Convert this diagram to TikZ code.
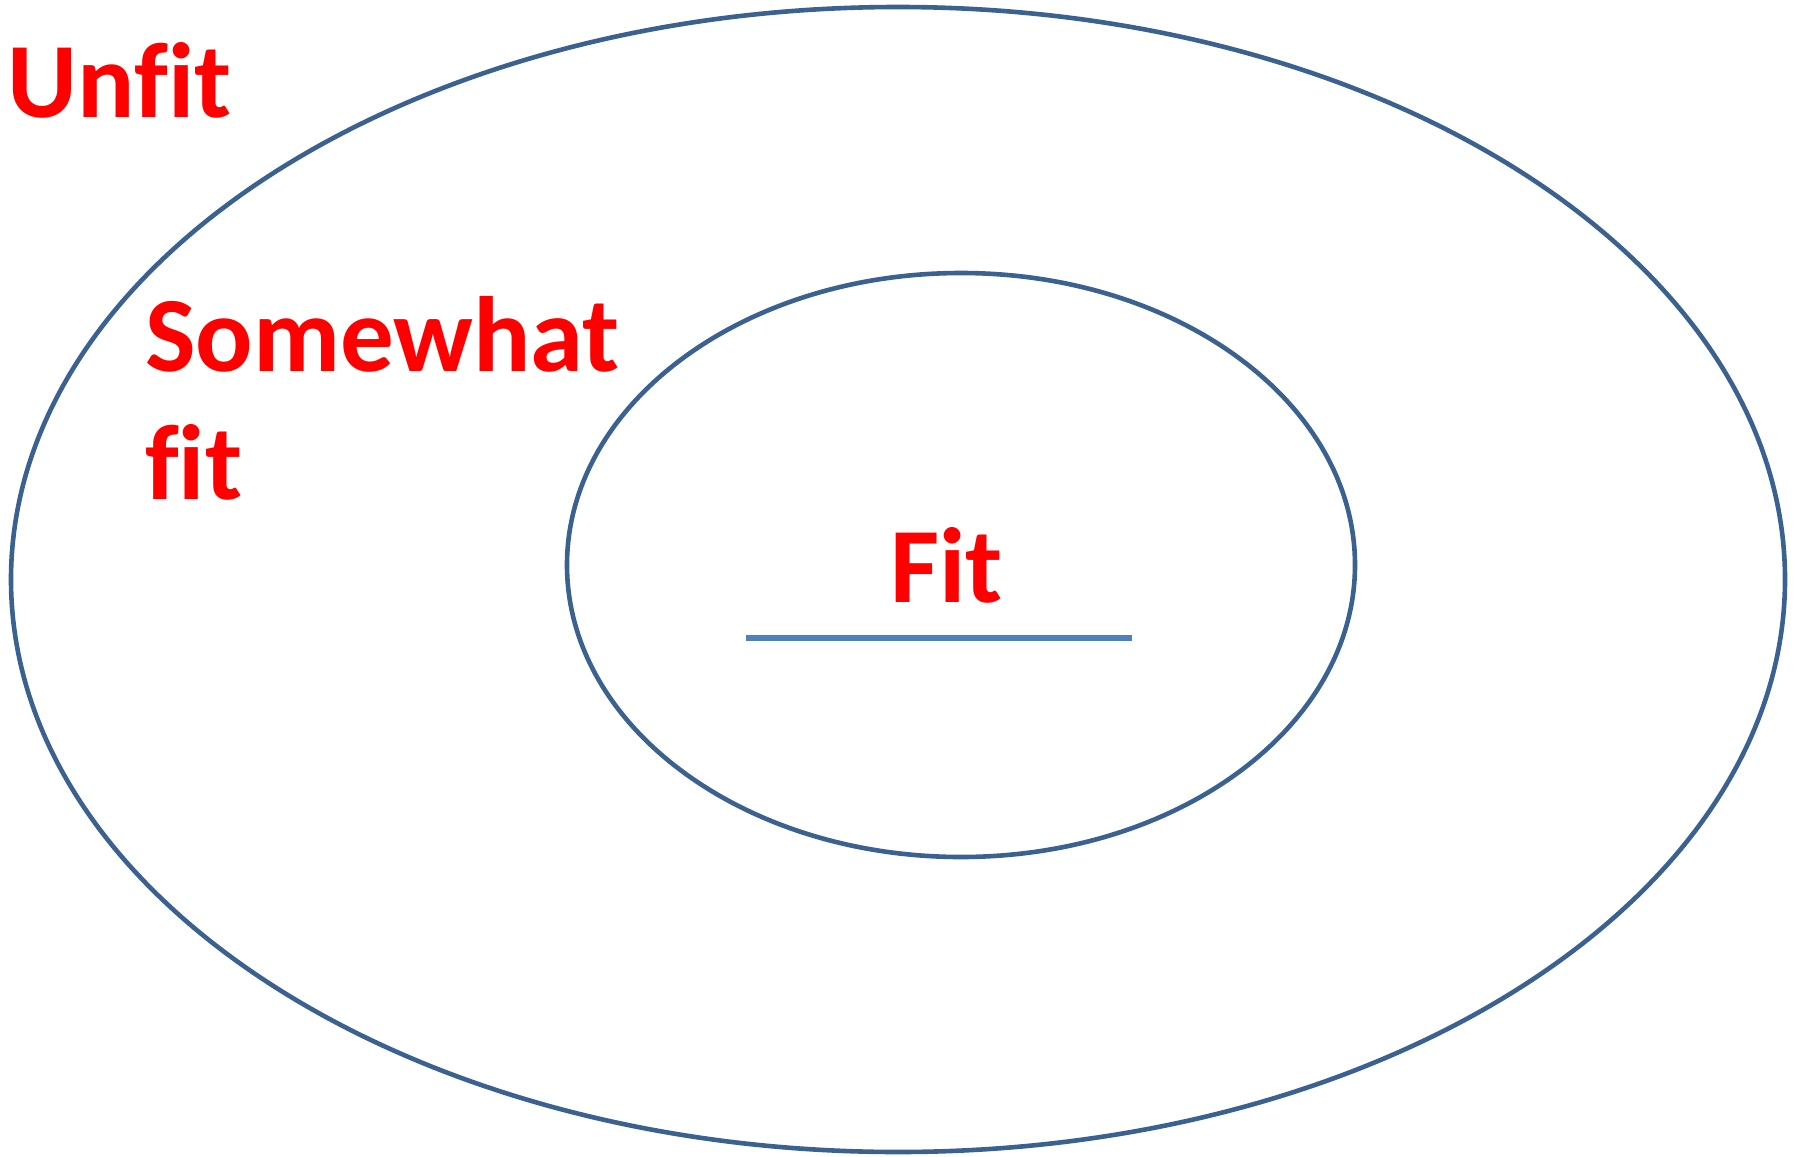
\documentclass[tikz,border=0pt]{standalone}
\usepackage{fontspec}
\setmainfont[Ligatures=NoCommon]{Carlito}
\definecolor{ringblue}{HTML}{3A6190}
\definecolor{lineblue}{HTML}{4F81BD}
\definecolor{labelred}{HTML}{FF0000}
\begin{document}
\begin{tikzpicture}[x=1pt,y=-1pt,
  ring/.style={draw=ringblue,line width=4.6pt},
  label/.style={text=labelred,font=\fontsize{107}{128}\selectfont\bfseries,inner sep=0pt,outer sep=0pt}]
\useasboundingbox (0,0) rectangle (1800,1157);
\draw[ring] (898,579.5) ellipse [x radius=887, y radius=572.5];
\draw[ring] (961,565) ellipse [x radius=394, y radius=292];
\node[label,anchor=base west] (unfit) at (8,117) {Unfit};
\node[label,anchor=base west,align=left] (somewhat) at (145,499) {Somewhat\\fit};
\node[label,anchor=base west] (fit) at (890,602) {Fit};
\coordinate (la) at (746,637.5);
\coordinate (lb) at (1132,637.5);
\draw[lineblue,line width=6pt] (la) -- (lb);
\end{tikzpicture}
\end{document}
